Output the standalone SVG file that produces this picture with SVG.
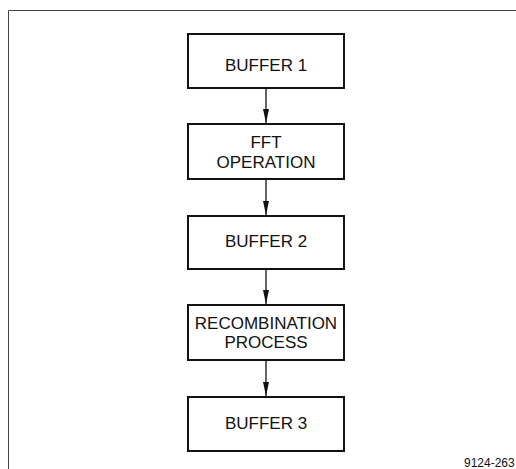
<svg xmlns="http://www.w3.org/2000/svg" width="516" height="469" viewBox="0 0 516 469">
  <style>
    .box { fill: #ffffff; stroke: #111111; stroke-width: 2; }
    .lbl { font-family: "Liberation Sans", Arial, sans-serif; font-size: 17px; fill: #111111; text-anchor: middle; }
    .flow { stroke: #111111; stroke-width: 1.3; fill: none; marker-end: url(#head); }
    .frame { stroke: #444444; stroke-width: 1; fill: none; }
    .code { font-family: "Liberation Sans", Arial, sans-serif; font-size: 12px; fill: #111111; }
  </style>
  <defs>
    <!-- long, narrow filled arrowhead pointing along the line -->
    <marker id="head" viewBox="0 0 14 6" refX="14" refY="3" markerWidth="14" markerHeight="6" markerUnits="userSpaceOnUse" orient="auto">
      <path d="M0,0 L14,3 L0,6 Z" fill="#111111"/>
    </marker>
  </defs>
  <rect width="516" height="469" fill="#ffffff"/>

  <!-- outer frame, open on the right and bottom -->
  <path class="frame" d="M8.5,469 L8.5,10.5 L516,10.5"/>

  <g id="connectors">
    <line class="flow" x1="266" y1="88" x2="266" y2="123"/>
    <line class="flow" x1="266" y1="179" x2="266" y2="215"/>
    <line class="flow" x1="266" y1="269" x2="266" y2="304"/>
    <line class="flow" x1="266" y1="360" x2="266" y2="396"/>
  </g>

  <g id="buffer1">
    <rect class="box" x="188" y="34" width="156" height="54"/>
    <text class="lbl" x="266" y="71">BUFFER 1</text>
  </g>

  <g id="fft">
    <rect class="box" x="188" y="124" width="156" height="55"/>
    <text class="lbl" x="266" y="148">FFT</text>
    <text class="lbl" x="266" y="168">OPERATION</text>
  </g>

  <g id="buffer2">
    <rect class="box" x="188" y="216" width="156" height="53"/>
    <text class="lbl" x="266" y="247">BUFFER 2</text>
  </g>

  <g id="recombination">
    <rect class="box" x="188" y="305" width="156" height="55"/>
    <text class="lbl" x="266" y="329">RECOMBINATION</text>
    <text class="lbl" x="266" y="348">PROCESS</text>
  </g>

  <g id="buffer3">
    <rect class="box" x="188" y="397" width="156" height="54"/>
    <text class="lbl" x="266" y="429">BUFFER 3</text>
  </g>

  <text class="code" x="464" y="467">9124-263</text>
</svg>
